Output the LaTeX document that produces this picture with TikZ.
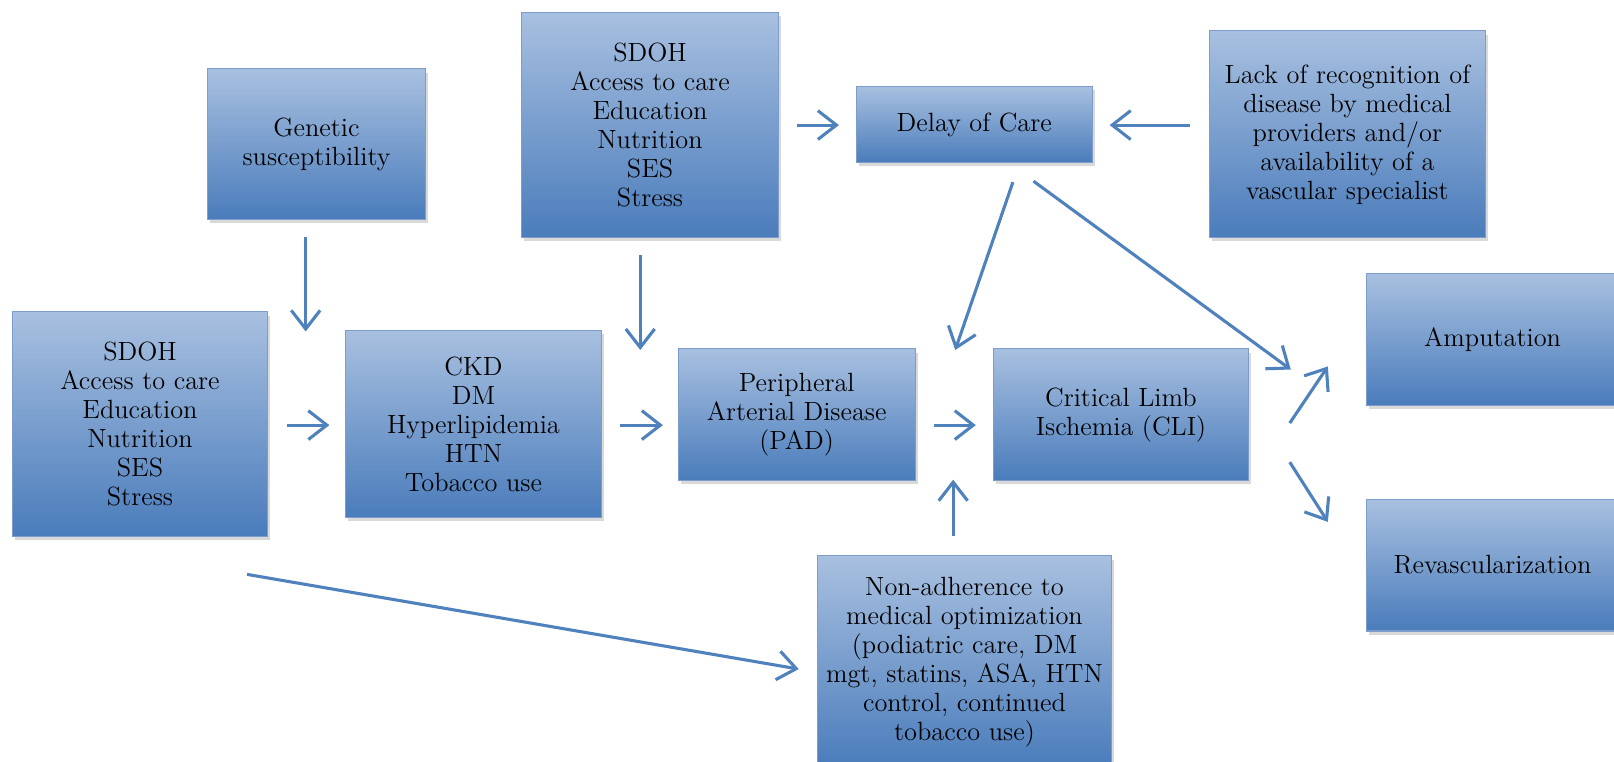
\documentclass[tikz,border=0pt]{standalone}
\usetikzlibrary{arrows.meta,shadows}
\definecolor{boxtop}{RGB}{168,192,224}
\definecolor{boxbot}{RGB}{74,124,187}
\definecolor{boxedge}{RGB}{125,156,204}
\definecolor{arrowc}{RGB}{79,129,189}
\tikzset{
  box/.style={rectangle, draw=boxedge, line width=0.5pt, top color=boxtop, bottom color=boxbot,
    align=center, inner sep=2pt, font=\fontsize{12.8}{14.1}\selectfont, text=black,
    drop shadow={shadow xshift=1.2pt, shadow yshift=-1.8pt, opacity=0.3}},
  arr/.style={draw=arrowc, line width=1.5pt, -{Straight Barb[length=9pt,width=14pt]}}
}
\begin{document}
\begin{tikzpicture}[x=0.5pt,y=-0.5pt]
\useasboundingbox (0,0) rectangle (1568,740);
\clip (0,0) rectangle (1568,740);
% boxes
\node[box, minimum width=105.5pt, minimum height=73pt] (gen) at (307.5,140) {Genetic\\susceptibility};
\node[box, minimum width=124.5pt, minimum height=109.5pt] (sdohtop) at (631.5,121.5) {SDOH\\Access to care\\Education\\Nutrition\\SES\\Stress};
\node[box, minimum width=114.5pt, minimum height=37pt] (delay) at (946.5,121) {Delay of Care};
\node[box, minimum width=134pt, minimum height=100.5pt] (lack) at (1309,130.5) {Lack of recognition of\\disease by medical\\providers and/or\\availability of a\\vascular specialist};
\node[box, minimum width=124pt, minimum height=109pt] (sdohleft) at (136,412) {SDOH\\Access to care\\Education\\Nutrition\\SES\\Stress};
\node[box, minimum width=124pt, minimum height=91pt] (ckd) at (460,412) {CKD\\DM\\Hyperlipidemia\\HTN\\Tobacco use};
\node[box, minimum width=115pt, minimum height=64pt] (pad) at (774,403) {Peripheral\\Arterial Disease\\(PAD)};
\node[box, minimum width=124pt, minimum height=64pt] (cli) at (1089,403) {Critical Limb\\Ischemia (CLI)};
\node[box, minimum width=122pt, minimum height=64pt] (amp) at (1450,330) {Amputation};
\node[box, minimum width=122pt, minimum height=64pt] (rev) at (1450,549) {Revascularization};
\node[box, minimum width=143pt, minimum height=103pt] (non) at (937,643) {Non-adherence to\\medical optimization\\(podiatric care, DM\\mgt, statins, ASA, HTN\\control, continued\\tobacco use)};
% connector end points
\coordinate (genS) at (297,230);   \coordinate (genE) at (297,322);
\coordinate (stS) at (622,248);    \coordinate (stE) at (622,340);
\coordinate (stdS) at (774,121.5); \coordinate (stdE) at (815,121.5);
\coordinate (lkS) at (1156,121.5); \coordinate (lkE) at (1078,121.5);
\coordinate (dpS) at (984,177);    \coordinate (dpE) at (928,340);
\coordinate (daS) at (1004,176);   \coordinate (daE) at (1254,359);
\coordinate (scS) at (279,413);    \coordinate (scE) at (320,413);
\coordinate (cpS) at (602,413);    \coordinate (cpE) at (644,413);
\coordinate (plS) at (907,413);    \coordinate (plE) at (948,413);
\coordinate (nuS) at (926,521);    \coordinate (nuE) at (926,466);
\coordinate (snS) at (240,558);    \coordinate (snE) at (776,650);
\coordinate (caS) at (1253,411);   \coordinate (caE) at (1290,356);
\coordinate (crS) at (1253,449);   \coordinate (crE) at (1290,507);
% connectors
\draw[arr] (genS) -- (genE);
\draw[arr] (stS) -- (stE);
\draw[arr] (stdS) -- (stdE);
\draw[arr] (lkS) -- (lkE);
\draw[arr] (dpS) -- (dpE);
\draw[arr] (daS) -- (daE);
\draw[arr] (scS) -- (scE);
\draw[arr] (cpS) -- (cpE);
\draw[arr] (plS) -- (plE);
\draw[arr] (nuS) -- (nuE);
\draw[arr] (snS) -- (snE);
\draw[arr] (caS) -- (caE);
\draw[arr] (crS) -- (crE);
\end{tikzpicture}
\end{document}
